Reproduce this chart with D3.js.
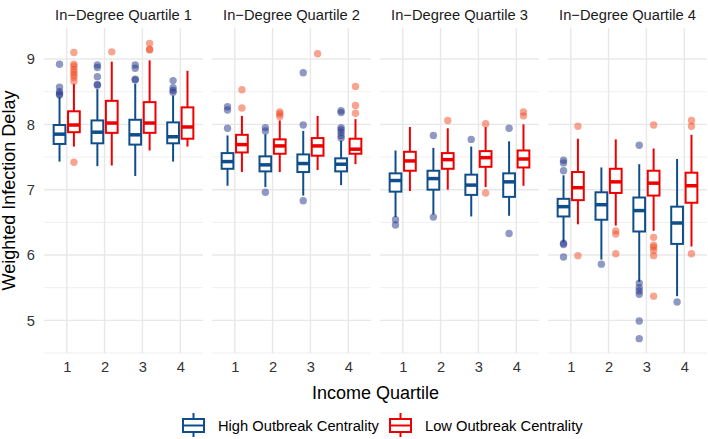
<!DOCTYPE html>
<html><head><meta charset="utf-8">
<script src="https://cdn.jsdelivr.net/npm/d3@7"></script>
<style>body{margin:0;background:#fff}svg{display:block}text{font-family:"Liberation Sans",Arial,sans-serif}</style>
</head><body><svg id="c" width="708" height="439"></svg>
<script>
const panels = ["In\u2212Degree Quartile 1","In\u2212Degree Quartile 2","In\u2212Degree Quartile 3","In\u2212Degree Quartile 4"];
const incomeQ = ["1","2","3","4"];
const groups = ["High Outbreak Centrality","Low Outbreak Centrality"];
const yTicks = [5,6,7,8,9];
// [whiskerLow, q1, median, q3, whiskerHigh] per panel, per income quartile
const highStats = [
  [[7.43,7.70,7.85,7.99,8.42],[7.36,7.71,7.88,8.06,8.54],[7.21,7.69,7.84,8.07,8.62],[7.43,7.71,7.81,8.03,8.44]],
  [[7.06,7.32,7.43,7.56,7.83],[7.04,7.28,7.38,7.51,7.85],[6.91,7.27,7.40,7.54,7.90],[7.07,7.28,7.39,7.48,7.75]],
  [[6.58,6.97,7.14,7.25,7.60],[6.62,7.00,7.17,7.29,7.64],[6.59,6.92,7.07,7.23,7.66],[6.60,6.89,7.12,7.25,7.74]],
  [[6.20,6.59,6.74,6.86,7.22],[5.93,6.54,6.77,6.96,7.34],[5.59,6.36,6.68,6.88,7.39],[5.37,6.17,6.49,6.74,7.47]]
];
const lowStats = [
  [[7.66,7.88,7.99,8.20,8.62],[7.37,7.87,8.02,8.36,8.96],[7.60,7.87,8.02,8.34,8.98],[7.66,7.78,7.96,8.26,8.82]],
  [[7.27,7.57,7.69,7.84,8.13],[7.27,7.55,7.67,7.77,8.06],[7.30,7.52,7.67,7.79,8.13],[7.39,7.55,7.62,7.78,8.08]],
  [[6.98,7.29,7.44,7.58,7.96],[7.00,7.32,7.46,7.56,7.94],[7.04,7.35,7.49,7.59,7.96],[7.06,7.34,7.47,7.60,8.00]],
  [[6.47,6.84,7.03,7.27,7.78],[6.45,6.95,7.12,7.32,7.77],[6.37,6.91,7.10,7.29,7.63],[6.13,6.80,7.06,7.26,7.84]]
];
const highOutliers = [
  [[8.92,8.57,8.50,8.47,8.45],[8.91,8.87,8.73,8.61,8.60],[8.91,8.86,8.69,8.68],[8.67,8.56,8.52,8.49]],
  [[8.27,8.22,7.94],[7.95,7.90,6.96],[8.79,7.99,6.83],[8.21,8.18,7.95,7.92,7.88,7.83,7.79]],
  [[6.54,6.46],[7.83,6.58],[7.77],[7.94,6.33]],
  [[7.45,7.41,7.29,6.18,6.16,5.97],[5.86],[7.68,5.57,5.50,5.45,5.40,4.99,4.72],[5.28]]
];
const lowOutliers = [
  [[9.10,8.92,8.89,8.84,8.80,8.76,8.72,8.66,7.42],[9.11],[9.24,9.15,9.14],[]],
  [[8.53,8.25],[8.19,8.16,8.12],[9.08],[8.58,8.29,8.17]],
  [[],[8.06],[8.01,6.95],[8.19,8.13]],
  [[7.97,5.99],[6.37,6.32,6.02],[7.99,6.27,6.15,6.12,6.07,5.99,5.37],[8.06,7.97,6.02]]
];

const boxCol = ["#104E8B","#EE0000"];
const outCol = ["#22338a","#f24a22"];
const svg = d3.select("#c");
const pLeft = 44, pW = 159, pStep = 168, pTop = 28, pBot = 353;
const y = d3.scaleLinear().domain([4.5,9.475]).range([pBot,pTop]);
const dodge = 0.19, bw = 0.31;

panels.forEach((title,pi)=>{
  const x0 = pLeft + pi*pStep;
  const x = d3.scaleLinear().domain([0.4,4.6]).range([x0,x0+pW]);
  const g = svg.append("g");
  d3.range(4.5,9.5,1).forEach(v=>{
    g.append("line").attr("x1",x0).attr("x2",x0+pW).attr("y1",y(v)).attr("y2",y(v))
     .attr("stroke","#ebebeb").attr("stroke-width",0.8);
  });
  yTicks.forEach(v=>{
    g.append("line").attr("x1",x0).attr("x2",x0+pW).attr("y1",y(v)).attr("y2",y(v))
     .attr("stroke","#e8e8e8").attr("stroke-width",1.4);
  });
  incomeQ.forEach((c,i)=>{
    g.append("line").attr("x1",x(i+1)).attr("x2",x(i+1)).attr("y1",pTop).attr("y2",pBot)
     .attr("stroke","#e8e8e8").attr("stroke-width",1.4);
  });
  svg.append("text").attr("x",x0+pW/2).attr("y",20).attr("text-anchor","middle")
    .attr("font-size",14.7).attr("fill","#1a1a1a").text(title);
  const xa = svg.append("g").attr("transform",`translate(0,${pBot})`)
    .call(d3.axisBottom(x).tickValues([1,2,3,4]).tickFormat((d,i)=>incomeQ[i]).tickSize(0).tickPadding(9));
  xa.select(".domain").remove();
  xa.selectAll("text").attr("font-size",14.7).attr("fill","#333").attr("font-family","Liberation Sans, Arial, sans-serif");
  [highStats,lowStats].forEach((stats,gi)=>{
    const outs = gi===0 ? highOutliers : lowOutliers;
    incomeQ.forEach((c,i)=>{
      const s = stats[pi][i];
      const cx = x(i+1 + (gi===0?-dodge:dodge));
      const half = (x(bw)-x(0))/2;
      const col = boxCol[gi];
      g.append("line").attr("x1",cx).attr("x2",cx).attr("y1",y(s[0])).attr("y2",y(s[1]))
        .attr("stroke",col).attr("stroke-width",2);
      g.append("line").attr("x1",cx).attr("x2",cx).attr("y1",y(s[3])).attr("y2",y(s[4]))
        .attr("stroke",col).attr("stroke-width",2);
      g.append("rect").attr("x",cx-half).attr("width",2*half).attr("y",y(s[3])).attr("height",y(s[1])-y(s[3]))
        .attr("fill","#fff").attr("stroke",col).attr("stroke-width",2);
      g.append("line").attr("x1",cx-half).attr("x2",cx+half).attr("y1",y(s[2])).attr("y2",y(s[2]))
        .attr("stroke",col).attr("stroke-width",3.5);
      outs[pi][i].forEach(v=>{
        g.append("circle").attr("cx",cx).attr("cy",y(v)).attr("r",3.7)
          .attr("fill",outCol[gi]).attr("fill-opacity",0.5);
      });
    });
  });
});
const ya = svg.append("g").attr("transform",`translate(${pLeft},0)`)
  .call(d3.axisLeft(y).tickValues(yTicks).tickFormat(d3.format("d")).tickSize(0).tickPadding(9));
ya.select(".domain").remove();
ya.selectAll("text").attr("font-size",14.7).attr("fill","#333").attr("font-family","Liberation Sans, Arial, sans-serif");

svg.append("text").attr("transform",`translate(15,${(pTop+pBot)/2}) rotate(-90)`).attr("text-anchor","middle")
  .attr("font-size",18).attr("fill","#000").text("Weighted Infection Delay");
svg.append("text").attr("x",pLeft+(3*pStep+pW)/2).attr("y",399).attr("text-anchor","middle")
  .attr("font-size",18).attr("fill","#000").text("Income Quartile");

const legX = [182,389];
groups.forEach((name,gi)=>{
  const lg = svg.append("g").attr("transform",`translate(${legX[gi]},413)`);
  const col = boxCol[gi];
  lg.append("line").attr("x1",11.5).attr("x2",11.5).attr("y1",0).attr("y2",24).attr("stroke",col).attr("stroke-width",2);
  lg.append("rect").attr("x",1).attr("y",6).attr("width",21).attr("height",13).attr("fill","#fff").attr("stroke",col).attr("stroke-width",2);
  lg.append("line").attr("x1",1).attr("x2",22).attr("y1",12.5).attr("y2",12.5).attr("stroke",col).attr("stroke-width",2);
  lg.append("text").attr("x",36).attr("y",17.5).attr("font-size",14.7).attr("fill","#000").text(name);
});
</script></body></html>
